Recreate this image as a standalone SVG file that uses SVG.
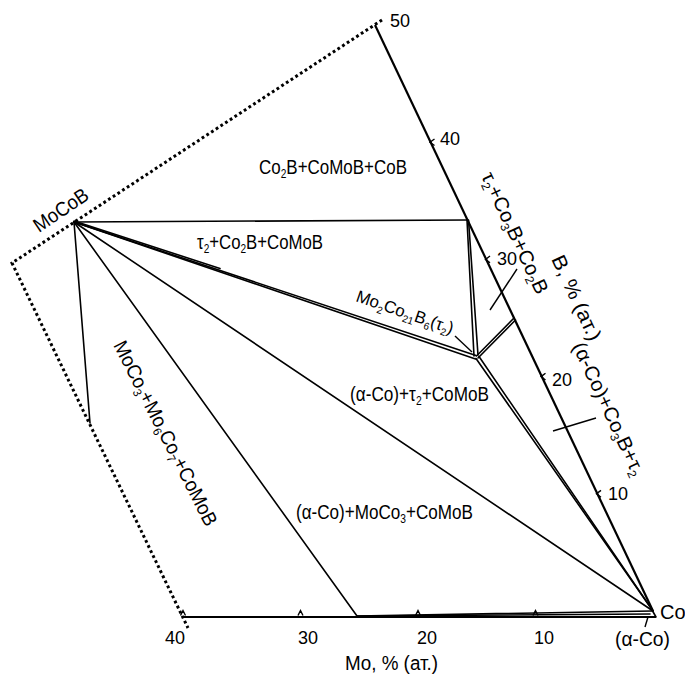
<svg xmlns="http://www.w3.org/2000/svg" width="685" height="680" viewBox="0 0 685 680">
<style>
.ln{stroke:#000;fill:none;stroke-width:1.6;stroke-linecap:round}
.th{stroke:#000;fill:none;stroke-width:2.2}
.dot{stroke:#000;fill:none;stroke-width:3;stroke-dasharray:2.8 2.8}
.tk{stroke:#000;fill:none;stroke-width:1.4}
.t{font-family:"Liberation Sans",Arial,sans-serif;font-size:20px;fill:#000}
.n{font-family:"Liberation Sans",Arial,sans-serif;font-size:18px;fill:#000}
.s{font-size:12px}
.s2{font-size:10px}
</style>
<rect width="685" height="680" fill="#fff"/>
<g id="boundary">
<polyline class="dot" points="382,20 12,263 188,628"/>
<line class="th" x1="375" y1="25" x2="653" y2="611"/>
<line class="th" x1="183" y1="617" x2="656" y2="617"/>
<line class="ln" x1="656" y1="617" x2="652" y2="610"/>
</g>
<g id="connectors">
<line class="ln" x1="74" y1="222" x2="467.5" y2="220"/>
<line class="ln" x1="74" y1="222" x2="90" y2="423"/>
<line class="ln" x1="74" y1="222" x2="357" y2="616"/>
<line class="ln" x1="74" y1="222" x2="653" y2="611"/>
<line class="ln" x1="74" y1="222" x2="476" y2="355.5"/>
<line class="ln" x1="74" y1="222" x2="475.5" y2="359"/>
<line class="ln" x1="74" y1="221" x2="220" y2="268.5"/>
<line class="ln" x1="467" y1="220" x2="474" y2="356"/>
<line class="ln" x1="468.5" y1="220" x2="478" y2="355"/>
<line class="ln" x1="476" y1="358.5" x2="653" y2="611"/>
<line class="ln" x1="479" y1="356.5" x2="653" y2="611"/>
<line class="ln" x1="476.5" y1="356" x2="514" y2="318"/>
<line class="ln" x1="478" y1="358" x2="515.5" y2="320"/>
<line class="ln" x1="357" y1="616" x2="652" y2="611"/>
<line class="ln" x1="357" y1="616" x2="650" y2="614"/>
<line class="tk" x1="455" y1="336" x2="472" y2="352"/>
<line class="tk" x1="490" y1="310" x2="517" y2="269"/>
<line class="tk" x1="553" y1="431" x2="596" y2="418"/>
<line class="tk" x1="645" y1="627" x2="648" y2="617"/>
</g>
<g id="ticks">
<path class="tk" d="M180.5 615.5 L183 610.5 L185.5 615.5 M298 615.5 L300.5 610.5 L303 615.5 M415.5 615.5 L418 610.5 L420.5 615.5 M533 615.5 L535.5 610.5 L538 615.5"/>
<path class="tk" d="M434.5 139 L430 142.2 L434.5 145.5 M490 256 L485.5 259.4 L490 262.8 M545.5 373.2 L541 376.6 L545.5 380 M601 490.4 L596.5 493.8 L601 497.2"/>
</g>
<g id="axis-labels">
<text class="n" x="390" y="27">50</text>
<text class="n" x="440" y="145">40</text>
<text class="n" x="497" y="265">30</text>
<text class="n" x="552" y="386">20</text>
<text class="n" x="608" y="500">10</text>
<text class="n" x="165" y="644">40</text>
<text class="n" x="298" y="644">30</text>
<text class="n" x="417" y="644">20</text>
<text class="n" x="534" y="644">10</text>
<text class="t" x="345" y="670" textLength="93" lengthAdjust="spacingAndGlyphs">Mo, % (ат.)</text>
<text class="t" transform="translate(551,259) rotate(65)" textLength="92" lengthAdjust="spacingAndGlyphs">B, % (ат.)</text>
<text class="t" x="660" y="619">Co</text>
<text class="t" x="615" y="646" textLength="55" lengthAdjust="spacingAndGlyphs">(α-Co)</text>
<text class="t" transform="translate(39,233) rotate(-34)" textLength="62" lengthAdjust="spacingAndGlyphs">MoCoB</text>
</g>
<g id="region-labels">
<text class="t" x="259" y="174" textLength="148" lengthAdjust="spacingAndGlyphs">Co<tspan class="s" dy="4">2</tspan><tspan dy="-4">B+CoMoB+CoB</tspan></text>
<text class="t" x="197" y="249" textLength="126" lengthAdjust="spacingAndGlyphs">τ<tspan class="s" dy="4">2</tspan><tspan dy="-4">+Co</tspan><tspan class="s" dy="4">2</tspan><tspan dy="-4">B+CoMoB</tspan></text>
<text class="t" transform="translate(355,301) rotate(19)" style="font-size:17px" textLength="102" lengthAdjust="spacingAndGlyphs">Mo<tspan class="s2" dy="4">2</tspan><tspan dy="-4">Co</tspan><tspan class="s2" dy="4">21</tspan><tspan dy="-4">B</tspan><tspan class="s2" dy="4">6</tspan><tspan dy="-4">(τ</tspan><tspan class="s2" dy="4">2</tspan><tspan dy="-4">)</tspan></text>
<text class="t" x="350" y="401" textLength="139" lengthAdjust="spacingAndGlyphs">(α-Co)+τ<tspan class="s" dy="4">2</tspan><tspan dy="-4">+CoMoB</tspan></text>
<text class="t" x="296" y="519" textLength="177" lengthAdjust="spacingAndGlyphs">(α-Co)+MoCo<tspan class="s" dy="4">3</tspan><tspan dy="-4">+CoMoB</tspan></text>
<text class="t" transform="translate(113,345) rotate(63)" textLength="205" lengthAdjust="spacingAndGlyphs">MoCo<tspan class="s" dy="4">3</tspan><tspan dy="-4">+Mo</tspan><tspan class="s" dy="4">6</tspan><tspan dy="-4">Co</tspan><tspan class="s" dy="4">7</tspan><tspan dy="-4">+CoMoB</tspan></text>
<text class="t" transform="translate(481,176) rotate(65)" textLength="132" lengthAdjust="spacingAndGlyphs">τ<tspan class="s" dy="4">2</tspan><tspan dy="-4">+Co</tspan><tspan class="s" dy="4">3</tspan><tspan dy="-4">B+Co</tspan><tspan class="s" dy="4">2</tspan><tspan dy="-4">B</tspan></text>
<text class="t" transform="translate(572,346) rotate(65)" textLength="145" lengthAdjust="spacingAndGlyphs">(α-Co)+Co<tspan class="s" dy="4">3</tspan><tspan dy="-4">B+τ</tspan><tspan class="s" dy="4">2</tspan></text>
</g>
</svg>
